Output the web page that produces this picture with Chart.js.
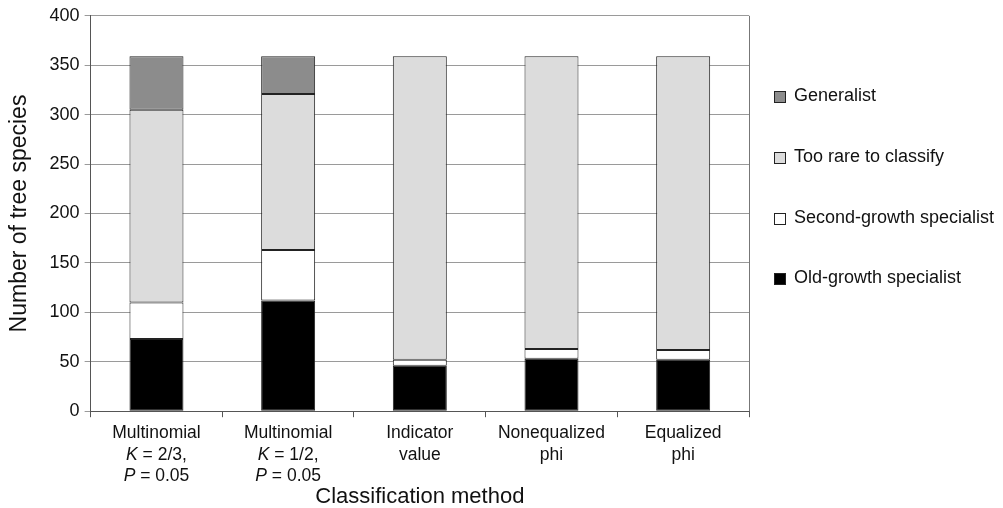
<!DOCTYPE html>
<html>
<head>
<meta charset="utf-8">
<script src="https://cdn.jsdelivr.net/npm/chart.js@4.4.1/dist/chart.umd.min.js"></script>
<style>
  body { margin: 0; background: #fff; font-family: "Liberation Sans", Arial, sans-serif; }
  #wrap { position: relative; width: 1003px; height: 508px; }
  #legend { position: absolute; left: 774px; top: 0; }
  .item { position: absolute; white-space: nowrap; font-size: 18px; color: #111; }
  .item span.box { position: absolute; left: 0; top: 5px; width: 10px; height: 10px; border: 1px solid #222; }
  .item span.txt { position: absolute; left: 20px; top: -1px; }
</style>
</head>
<body>
<div id="wrap">
  <canvas id="c"></canvas>
  <div id="legend"></div>
</div>
<script>
// categories (x) and stacked series, bottom to top
var methods = [
  ["Multinomial", "K = 2/3,", "P = 0.05"],
  ["Multinomial", "K = 1/2,", "P = 0.05"],
  ["Indicator", "value"],
  ["Nonequalized", "phi"],
  ["Equalized", "phi"]
];
var oldGrowth    = [73, 112, 46, 53, 52];
var secondGrowth = [37, 51, 6, 10, 10];
var tooRare      = [195, 158, 307, 296, 297];
var generalist   = [54, 38, 0, 0, 0];
var yTicks = [0, 50, 100, 150, 200, 250, 300, 350, 400];

var FONT = "'Liberation Sans', Arial, sans-serif";

// x labels with italic K / P, drawn over the (transparent) library ticks
var xLabelPlugin = {
  id: 'xlabels',
  afterDraw: function (chart) {
    var ctx = chart.ctx, xs = chart.scales.x;
    ctx.save();
    ctx.fillStyle = '#111';
    ctx.textBaseline = 'middle';
    methods.forEach(function (lines, i) {
      var x = xs.getPixelForTick(i);
      lines.forEach(function (line, j) {
        var y = xs.top + 22 + j * 21.7;
        var first = '', rest = line;
        if (/^[KP] /.test(line)) { first = line[0]; rest = line.slice(1); }
        ctx.font = 'italic 17.5px ' + FONT;
        var w1 = first ? ctx.measureText(first).width : 0;
        ctx.font = '17.5px ' + FONT;
        var w2 = ctx.measureText(rest).width;
        var x0 = x - (w1 + w2) / 2;
        ctx.textAlign = 'left';
        if (first) {
          ctx.font = 'italic 17.5px ' + FONT;
          ctx.fillText(first, x0, y);
        }
        ctx.font = '17.5px ' + FONT;
        ctx.fillText(rest, x0 + w1, y);
      });
    });
    // right frame line
    var a = chart.chartArea;
    ctx.strokeStyle = '#777';
    ctx.lineWidth = 1;
    ctx.beginPath();
    ctx.moveTo(Math.round(a.right) + 0.5, a.top);
    ctx.lineTo(Math.round(a.right) + 0.5, a.bottom);
    ctx.stroke();
    ctx.restore();
  }
};

var series = [
  { label: 'Old-growth specialist', data: oldGrowth, color: '#000000' },
  { label: 'Second-growth specialist', data: secondGrowth, color: '#ffffff' },
  { label: 'Too rare to classify', data: tooRare, color: '#dcdcdc' },
  { label: 'Generalist', data: generalist, color: '#8c8c8c' }
];

new Chart(document.getElementById('c'), {
  type: 'bar',
  data: {
    labels: methods,
    datasets: series.map(function (s) {
      return {
        label: s.label,
        data: s.data,
        backgroundColor: s.color,
        borderColor: '#222',
        borderWidth: 1,
        borderSkipped: false,
        barPercentage: 0.41,
        categoryPercentage: 1
      };
    })
  },
  options: {
    responsive: true,
    maintainAspectRatio: false,
    animation: false,
    layout: { padding: { top: 7, right: 254, left: 2, bottom: 0 } },
    plugins: {
      legend: { display: false },
      tooltip: { enabled: false }
    },
    scales: {
      x: {
        stacked: true,
        offset: true,
        grid: { offset: true, drawOnChartArea: false, color: '#555', tickLength: 6 },
        border: { color: '#555', width: 1 },
        ticks: { color: 'transparent', font: { size: 18, family: FONT, lineHeight: 1.2 }, padding: 1, maxRotation: 0 },
        title: { display: true, text: 'Classification method', color: '#111', font: { size: 22, family: FONT, lineHeight: 1 }, padding: { top: 2, bottom: 0 } }
      },
      y: {
        stacked: true,
        min: 0,
        max: 400,
        afterBuildTicks: function (s) { s.ticks = yTicks.map(function (v) { return { value: v }; }); },
        grid: { color: '#9a9a9a', tickLength: 6 },
        border: { color: '#555', width: 1 },
        ticks: { color: '#111', font: { size: 18, family: FONT }, padding: 5 },
        title: { display: true, text: 'Number of tree species', color: '#111', font: { size: 23, family: FONT }, padding: { top: 4, bottom: 11 } }
      }
    }
  },
  plugins: [xLabelPlugin]
});

// legend, top to bottom
var legendRows = [series[3], series[2], series[1], series[0]];
var legendY = [86, 147, 208, 268];
var lg = document.getElementById('legend');
legendRows.forEach(function (s, i) {
  var d = document.createElement('div');
  d.className = 'item';
  d.style.top = legendY[i] + 'px';
  d.innerHTML = '<span class="box" style="background:' + s.color + '"></span><span class="txt">' + s.label + '</span>';
  lg.appendChild(d);
});
</script>
</body>
</html>
